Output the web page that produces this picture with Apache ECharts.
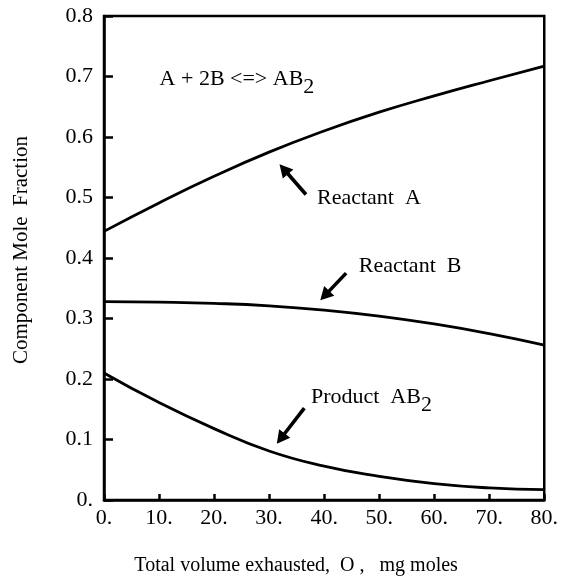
<!DOCTYPE html>
<html>
<head>
<meta charset="utf-8">
<script src="https://cdn.jsdelivr.net/npm/echarts@6/dist/echarts.min.js"></script>
<style>
html,body{margin:0;padding:0;background:#fff;}
#chart{width:561px;height:582px;}
</style>
</head>
<body>
<div id="chart"></div>
<script>
// ---- data ----
const volume = [0, 10, 20, 30, 40, 50, 60, 70, 80];
const reactantA = [0.444, 0.491, 0.535, 0.575, 0.610, 0.641, 0.668, 0.693, 0.717];
const reactantB = [0.328, 0.327, 0.325, 0.321, 0.314, 0.304, 0.291, 0.275, 0.256];
const productAB2 = [0.210, 0.161, 0.118, 0.081, 0.056, 0.039, 0.027, 0.020, 0.017];
const xTicks = [0, 10, 20, 30, 40, 50, 60, 70, 80];
const yTicks = [0, 0.1, 0.2, 0.3, 0.4, 0.5, 0.6, 0.7, 0.8];

// annotation anchors in data coordinates [x, y]
const eqnAnchor = [10.1, 0.695];
const labelA = { text: [38.7, 0.498], tail: [36.7, 0.505], head: [31.9, 0.555] };
const labelB = { text: [46.3, 0.386], tail: [44.0, 0.375], head: [39.3, 0.330] };
const labelP = { text: [37.6, 0.170], tail: [36.4, 0.152], head: [31.4, 0.093] };

const FONT = '"Liberation Serif", "Times New Roman", serif';
const chart = echarts.init(document.getElementById('chart'), null, { renderer: 'canvas' });

function pairs(ys) { return volume.map((v, i) => [v, ys[i]]); }

const lineStyle = { color: '#000', width: 2.8 };
const option = {
  backgroundColor: '#fff',
  animation: false,
  grid: { left: 104, right: 15, top: 16, bottom: 82, show: true, borderColor: '#000', borderWidth: 2.5, backgroundColor: 'transparent' },
  xAxis: {
    type: 'value', min: 0, max: 80, interval: 10,
    axisLine: { show: true, lineStyle: { color: '#000', width: 2.5 } },
    axisTick: { show: true, inside: true, length: 6, lineStyle: { color: '#000', width: 2.5 } },
    splitLine: { show: false },
    axisLabel: { color: '#000', fontFamily: FONT, fontSize: 22, margin: 7, formatter: v => v + '.' },
    name: 'Total volume exhausted,  O ,   mg moles',
    nameLocation: 'middle', nameGap: 56,
    nameTextStyle: { color: '#000', fontFamily: FONT, fontSize: 20, padding: [0, 56, 0, 0] }
  },
  yAxis: {
    type: 'value', min: 0, max: 0.8, interval: 0.1,
    axisLine: { show: true, lineStyle: { color: '#000', width: 2.5 } },
    axisTick: { show: true, inside: true, length: 9, lineStyle: { color: '#000', width: 2.5 } },
    splitLine: { show: false },
    axisLabel: { color: '#000', fontFamily: FONT, fontSize: 22, margin: 11, formatter: v => (Math.abs(v) < 1e-9 ? '0.' : v.toFixed(1)) },
    name: 'Component Mole  Fraction',
    nameLocation: 'middle', nameGap: 72,
    nameTextStyle: { color: '#000', fontFamily: FONT, fontSize: 21, padding: [0, 0, 0, 16] }
  },
  series: [
    { name: 'Reactant A', type: 'line', data: pairs(reactantA), smooth: 0.5, symbol: 'none', lineStyle },
    { name: 'Reactant B', type: 'line', data: pairs(reactantB), smooth: 0.5, symbol: 'none', lineStyle },
    { name: 'Product AB2', type: 'line', data: pairs(productAB2), smooth: 0.5, symbol: 'none', lineStyle }
  ]
};
chart.setOption(option);

function px(p) { return chart.convertToPixel({ gridIndex: 0 }, p); }

function arrow(tailD, headD) {
  const t = px(tailD), h = px(headD);
  const dx = h[0] - t[0], dy = h[1] - t[1];
  const len = Math.hypot(dx, dy);
  const ux = dx / len, uy = dy / len;
  const hl = 13, hw = 7;
  const bx = h[0] - ux * hl, by = h[1] - uy * hl;
  return [
    { type: 'line', shape: { x1: t[0], y1: t[1], x2: bx + ux * 2, y2: by + uy * 2 }, style: { stroke: '#000', lineWidth: 3.6 } },
    { type: 'polygon', shape: { points: [[h[0], h[1]], [bx - uy * hw, by + ux * hw], [bx + uy * hw, by - ux * hw]] }, style: { fill: '#000' } }
  ];
}

const rich = {
  n: { fontFamily: FONT, fontSize: 22, color: '#000', verticalAlign: 'top', lineHeight: 22 },
  s: { fontFamily: FONT, fontSize: 22, color: '#000', verticalAlign: 'top', lineHeight: 22, padding: [8, 0, 0, 0] }
};

function label(anchor, txt) {
  const p = px(anchor);
  return { type: 'text', x: p[0], y: p[1] - 11, style: { text: txt, rich: rich, fill: '#000', align: 'left' } };
}

const g = [];
g.push(label(eqnAnchor, '{n|A + 2B <=> AB}{s|2}'));
g.push(label(labelA.text, '{n|Reactant  A}'));
g.push(label(labelB.text, '{n|Reactant  B}'));
g.push(label(labelP.text, '{n|Product  AB}{s|2}'));
g.push(...arrow(labelA.tail, labelA.head));
g.push(...arrow(labelB.tail, labelB.head));
g.push(...arrow(labelP.tail, labelP.head));
chart.setOption({ graphic: g });
</script>
</body>
</html>
